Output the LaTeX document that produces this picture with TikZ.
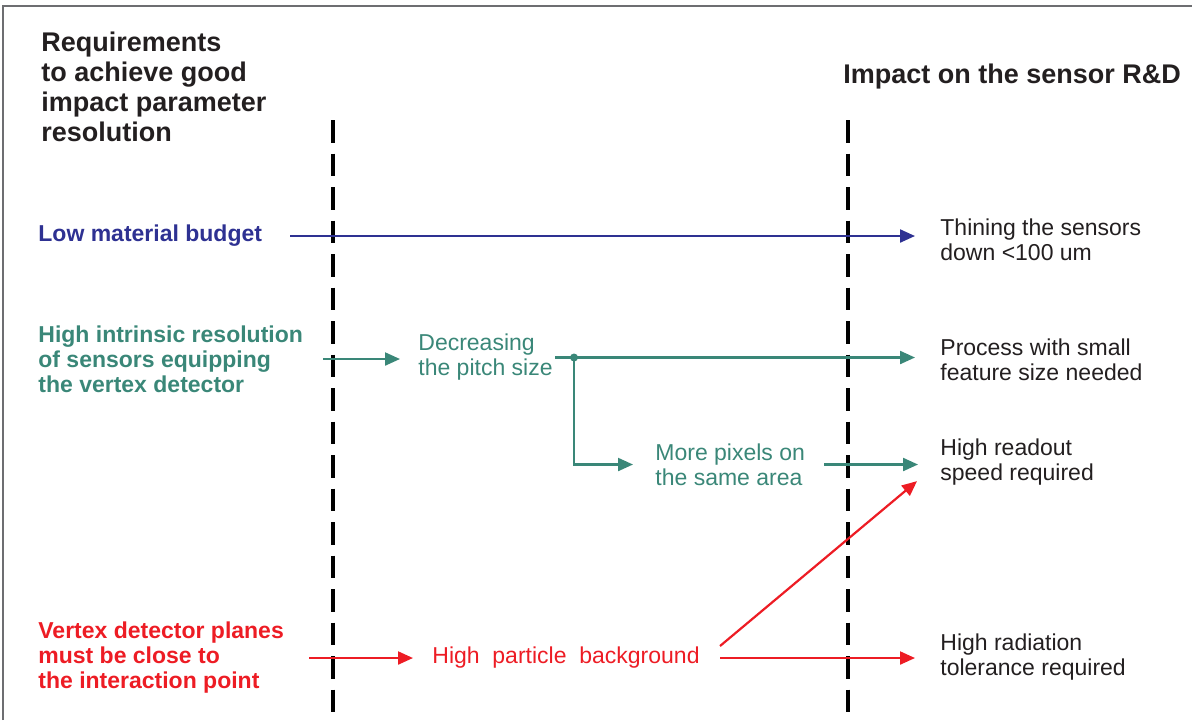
\documentclass[tikz,border=0pt]{standalone}
\usepackage{fontspec}
\setmainfont{Liberation Sans}
\usepackage{tikz}
\usetikzlibrary{positioning, arrows.meta, calc}
\usepackage{xcolor}
\definecolor{detInk}{HTML}{231F20}
\definecolor{detBlue}{HTML}{2E3192}
\definecolor{detGreen}{HTML}{3A8778}
\definecolor{detRed}{HTML}{ED1C24}
\definecolor{detFrame}{HTML}{6D6E71}

\begin{document}
\begin{tikzpicture}[x=0.5pt, y=-0.5pt, text=detInk,
    font=\fontsize{11.5}{12.5}\selectfont,
    every node/.style={inner sep=0pt, anchor=west, align=left},
    head/.style={font=\fontsize{13.5}{15}\selectfont\bfseries},
    req/.style={font=\fontsize{11.5}{12.5}\selectfont\bfseries},
    flow/.style={-{Triangle[length=7.5pt, width=6.5pt]}, line width=1.1pt},
    divider/.style={line width=2.3pt, dash pattern=on 11.25pt off 5.5pt}]
  \useasboundingbox (0,0) rectangle (1192,720);
  % marco
  \draw[detFrame, line width=1pt] (3,720) -- (3,6) -- (1192,6);
  % columnas
  \node[head] (reqtitle) at (41,87) {Requirements\\to achieve good\\impact parameter\\resolution};
  \node[head] (imptitle) at (843,77) {Impact on the sensor R\&D};
  \foreach \x in {333,848} {
    \draw[divider] (\x,120) -- (\x,712);
  }
  % requisitos
  \node[req, text=detBlue]  (lowmat) at (38,236) {Low material budget};
  \node[req, text=detGreen] (intres) at (38,359) {High intrinsic resolution\\of sensors equipping\\the vertex detector};
  \node[req, text=detRed]   (close)  at (38,658) {Vertex detector planes\\must be close to\\the interaction point};
  % pasos intermedios
  \node[text=detGreen] (pitch)  at (418,357.5) {Decreasing\\the pitch size};
  \node[text=detGreen] (pixels) at (655,464.5) {More pixels on\\the same area};
  \node[text=detRed]   (bkg)    at (432,658)   {High~~particle~~background};
  % impacto
  \node (thin)      at (940,239.5) {Thining the sensors\\down <100 um};
  \node (process)   at (940,359.5) {Process with small\\feature size needed};
  \node (readout)   at (940,462.5) {High readout\\speed required};
  \node (radiation) at (940,657.5) {High radiation\\tolerance required};
  % flechas
  \draw[flow, detBlue, shorten <=14pt, shorten >=12.5pt] (lowmat.east) -- (lowmat.east -| thin.west);
  \draw[flow, detGreen, shorten <=10pt, shorten >=9pt] (intres.east) -- (intres.east -| pitch.west);
  \coordinate (split) at ([xshift=10.5pt]pitch.east);
  \draw[flow, detGreen, shorten <=1pt, shorten >=12.5pt] (pitch.east) -- (pitch.east -| process.west);
  \fill[detGreen] (split) circle[radius=2pt];
  \draw[flow, detGreen, shorten >=11pt] (split) |- (pixels.west);
  \draw[flow, detGreen, shorten <=9.5pt, shorten >=11pt] (pixels.east) -- (pixels.east -| readout.west);
  \draw[flow, detRed, shorten <=12.5pt, shorten >=9.5pt] (close.east) -- (close.east -| bkg.west);
  \draw[flow, detRed, shorten <=10pt, shorten >=12.5pt] (bkg.east) -- (bkg.east -| radiation.west);
  \coordinate (kick) at ([xshift=10pt, yshift=6pt]bkg.east);
  \coordinate (aim)  at ([xshift=-11.5pt, yshift=2.5pt]readout.south west);
  \draw[flow, detRed] (kick) -- (aim);
\end{tikzpicture}
\end{document}
